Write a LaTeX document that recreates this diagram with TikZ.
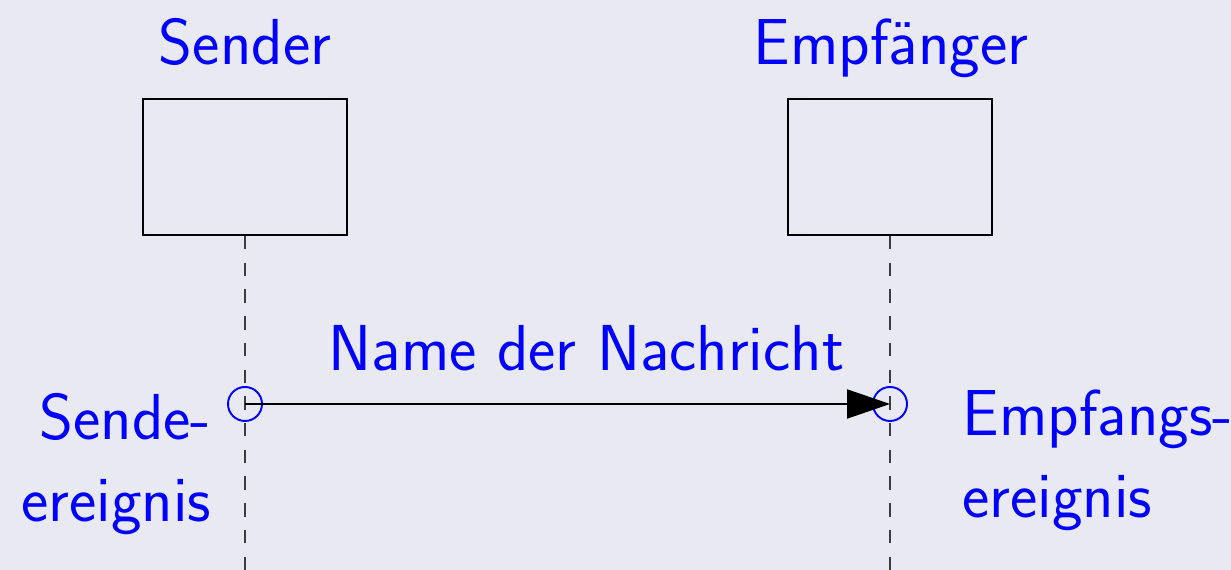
\documentclass[tikz,border=0pt]{standalone}
\usepackage{tikz}
\usetikzlibrary{arrows.meta,positioning,calc}
\definecolor{bgcolor}{RGB}{233,233,243}
\definecolor{labcolor}{RGB}{0,0,255}
\definecolor{lifecolor}{RGB}{60,60,60}
\tikzset{
  objbox/.style={draw=black, line width=0.6pt, minimum width=2.04cm, minimum height=1.36cm, inner sep=0pt},
  lifeln/.style={dash pattern=on 3.8pt off 3.8pt, line width=0.75pt, lifecolor},
  msgln/.style={-{Triangle[length=4.3mm,width=2.9mm]}, line width=0.6pt, black},
  evcirc/.style={circle, draw=labcolor, line width=0.55pt, minimum size=3.4mm, inner sep=0pt},
  lab/.style={labcolor, inner sep=0pt, font=\sffamily\fontsize{18.5}{23.5}\selectfont},
}

\begin{document}
\begin{tikzpicture}
    \fill[bgcolor] (0,0) rectangle (12.31,5.7);
    \useasboundingbox (0,0) rectangle (12.31,5.7);
    % the two objects
    \node[objbox] (sbox) at (2.45,4.03) {};
    \node[objbox] (rbox) at (8.90,4.03) {};
    \node[lab,anchor=base] (sname) at (2.45,5.05) {Sender};
    \node[lab,anchor=base] (rname) at (8.91,5.05) {Empf\"anger};
    % lifelines
    \coordinate (send) at (2.45,0);
    \coordinate (rend) at (8.90,0);
    \draw[lifeln] (sbox.south) -- (send);
    \draw[lifeln] (rbox.south) -- (rend);
    % send and receive events
    \coordinate (sev) at (2.45,1.66);
    \coordinate (rev) at (8.90,1.66);
    \node[evcirc] (sevc) at (sev) {};
    \node[evcirc] (revc) at (rev) {};
    \draw[msgln] (sev) -- (rev);
    \node[lab,anchor=base] (msgname) at (5.865,1.99) {Name der Nachricht};
    % last line sits on the given point
    \node[lab,anchor=base east,align=right] (slab) at (2.12,0.48) {Sende-\\ereignis};
    \node[lab,anchor=base west,align=left] (rlab) at (9.62,0.52) {Empfangs-\\ereignis};
\end{tikzpicture}
\end{document}
